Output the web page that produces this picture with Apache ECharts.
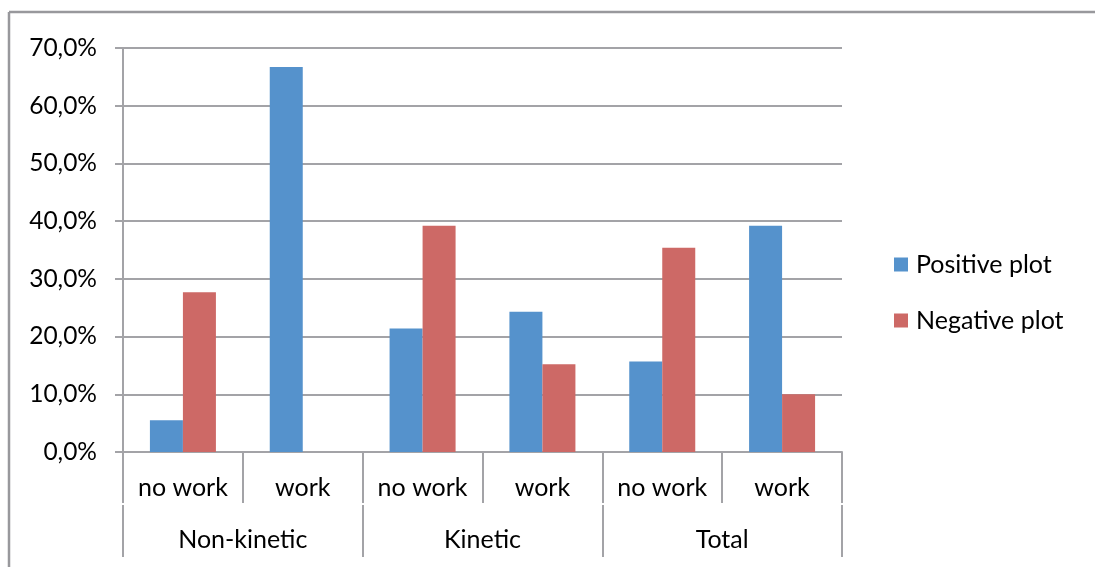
<!DOCTYPE html>
<html>
<head>
<meta charset="utf-8">
<script src="https://cdn.jsdelivr.net/npm/echarts@6/dist/echarts.min.js"></script>
<style>html,body{margin:0;padding:0;background:#fff}#c{width:1095px;height:567px}</style>
</head>
<body>
<div id="c"></div>
<script>
const subCategories = ['no work', 'work', 'no work', 'work', 'no work', 'work'];
const groups = ['Non-kinetic', 'Kinetic', 'Total'];
const positivePlot = [5.5, 66.7, 21.4, 24.3, 15.7, 39.2];
const negativePlot = [27.7, 0, 39.2, 15.2, 35.4, 10.0];
const seriesNames = ['Positive plot', 'Negative plot'];

const FONT = 'Lato';
const GRAY = '#a3a3a7';
const chart = echarts.init(document.getElementById('c'));
chart.setOption({
  animation: false,
  graphic: [
    { type: 'line', shape: { x1: 9, y1: 12, x2: 1095, y2: 12 }, style: { stroke: '#98989c', lineWidth: 2.5 } },
    { type: 'line', shape: { x1: 9, y1: 12, x2: 9, y2: 567 }, style: { stroke: '#98989c', lineWidth: 2.5 } }
  ],
  grid: { left: 123, right: 253, top: 48, bottom: 115 },
  legend: {
    orient: 'vertical', left: 889, top: 247,
    itemWidth: 14, itemHeight: 14, itemGap: 31,
    icon: 'rect',
    textStyle: { fontFamily: FONT, fontSize: 25, color: '#000', lineHeight: 25, padding: [0, 0, 0, 3] },
    data: seriesNames
  },
  xAxis: [
    {
      type: 'category', data: subCategories, position: 'bottom',
      axisLine: { lineStyle: { color: GRAY, width: 2 } },
      axisTick: { show: true, length: 51, interval: 0, lineStyle: { color: GRAY, width: 2 } },
      axisLabel: { interval: 0, margin: 23.5, fontFamily: FONT, fontSize: 25, color: '#000', lineHeight: 25 }
    },
    {
      type: 'category', data: groups, position: 'bottom', offset: 53,
      axisLine: { show: false },
      axisTick: { show: true, length: 52, interval: 0, lineStyle: { color: GRAY, width: 2 } },
      axisLabel: { interval: 0, margin: 22.5, fontFamily: FONT, fontSize: 25, color: '#000', lineHeight: 25 }
    }
  ],
  yAxis: {
    type: 'value', min: 0, max: 70, interval: 10,
    axisLine: { show: true, lineStyle: { color: GRAY, width: 2 } },
    axisTick: { show: true, length: 8, lineStyle: { color: GRAY, width: 2 } },
    splitLine: { lineStyle: { color: GRAY, width: 2 } },
    axisLabel: {
      margin: 26, fontFamily: FONT, fontSize: 24.5, color: '#000',
      formatter: v => v.toFixed(1).replace('.', ',') + '%'
    }
  },
  series: [
    { name: seriesNames[0], type: 'bar', data: positivePlot, barWidth: 33, barGap: '0%', xAxisIndex: 0,
      itemStyle: { color: '#5592cc' } },
    { name: seriesNames[1], type: 'bar', data: negativePlot, barWidth: 33, barGap: '0%', xAxisIndex: 0,
      itemStyle: { color: '#cd6966' } }
  ]
});
</script>
</body>
</html>
